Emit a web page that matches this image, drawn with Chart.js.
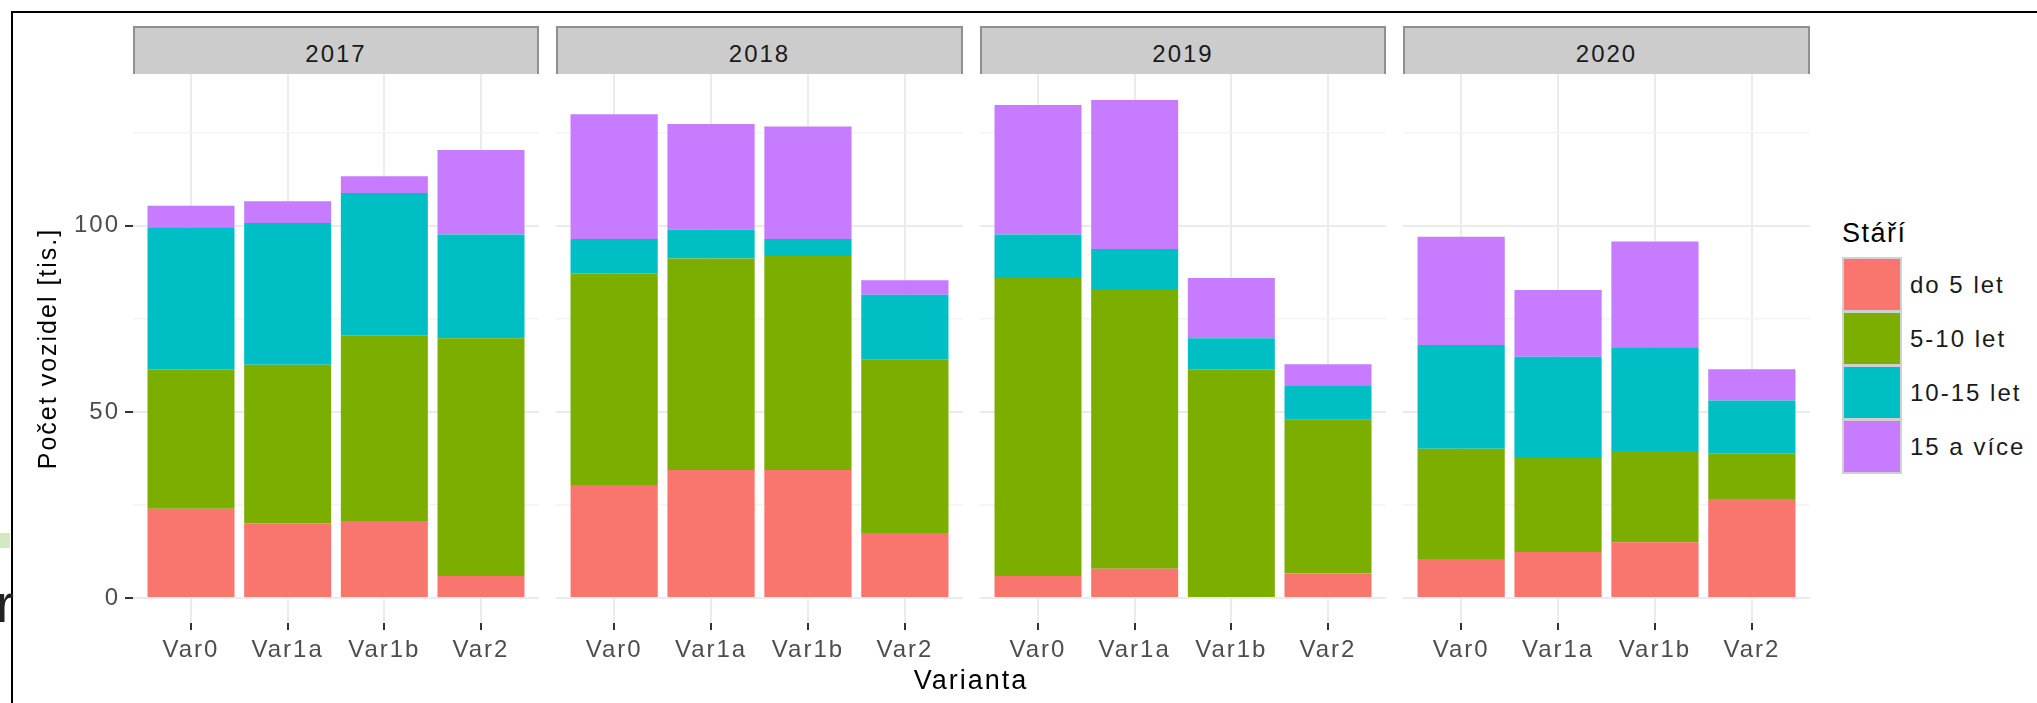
<!DOCTYPE html>
<html>
<head>
<meta charset="utf-8">
<script src="https://cdn.jsdelivr.net/npm/chart.js"></script>
<style>
  body { margin: 0; width: 2037px; height: 703px; overflow: hidden; background: #fff;
         font-family: "Liberation Sans", Arial, sans-serif; position: relative; }
  .frame { position: absolute; left: 11px; top: 11px; width: 2100px; height: 800px; border: 2px solid #000; }
  .panel { position: absolute; top: 74px; height: 629px; }
  .strip { position: absolute; top: 26px; height: 48px; box-sizing: border-box; background: #cccccc;
           border: 2px solid #8f8f8f; border-bottom: none; color: #1a1a1a; font-size: 24px;
           letter-spacing: 2px; text-align: center; line-height: 52px; }
  #xtitle { position: absolute; left: 771px; width: 400px; top: 662px; text-align: center;
            font-size: 27px; letter-spacing: 2px; color: #000; line-height: 36px; }
  #legend { position: absolute; left: 1842px; top: 215px; }
  #legend .title { font-size: 27px; letter-spacing: 1.5px; line-height: 36px; height: 40px; color: #000; }
  #legend .keys { position: absolute; left: 0; top: 42px; background: #d0d0d0; padding: 2px; }
  #legend .key { width: 56px; height: 51px; margin-bottom: 3px; }
  #legend .key:last-child { margin-bottom: 0; }
  #legend .label { position: absolute; left: 68px; font-size: 24px; letter-spacing: 2px; color: #1a1a1a;
                   line-height: 30px; white-space: nowrap; }
  .leftover { position: absolute; left: 0; top: 533px; width: 10px; height: 15px; background: #d4e8c4; }
  .leftchar { position: absolute; left: -4px; top: 571px; font-size: 54px; line-height: 64px; color: #222; }
</style>
</head>
<body>
<div class="frame"></div>
<div class="leftover"></div>
<div class="leftchar">r</div>
<div id="strips"></div>
<div id="panels"></div>
<div id="xtitle">Varianta</div>
<div id="legend"></div>

<script>
  const years = ['2017', '2018', '2019', '2020'];
  const variants = ['Var0', 'Var1a', 'Var1b', 'Var2'];
  const ageGroups = ['do 5 let', '5-10 let', '10-15 let', '15 a více'];
  const ageColors = ['#F8766D', '#7CAE00', '#00BFC4', '#C77CFF'];

  // thousands of vehicles, 4 variants per year (2017, 2018, 2019, 2020)
  const do5 =        [24.0, 20.1, 20.7,  5.9,  30.4, 34.4, 34.4, 17.5,   5.9,  7.9,  0.0,  6.6,  10.5, 12.4, 15.0, 26.6];
  const from5to10 =  [37.5, 42.6, 49.9, 63.9,  56.9, 56.8, 57.5, 46.5,  80.1, 74.9, 61.5, 41.3,  29.6, 25.2, 24.5, 12.3];
  const from10to15 = [38.1, 38.1, 38.2, 27.9,   9.2,  7.8,  4.6, 17.5,  11.7, 11.0,  8.3,  9.1,  27.9, 27.2, 27.9, 14.2];
  const over15 =     [ 5.8,  5.8,  4.5, 22.7,  33.5, 28.4, 30.2,  3.9,  34.8, 40.0, 16.2,  5.8,  29.1, 18.0, 28.4,  8.4];
  const yTicks = [0, 25, 50, 75, 100, 125];

  const series = [do5, from5to10, from10to15, over15];
  const font = 'Liberation Sans';

  // left edge / width of each facet canvas, and width reserved for the y axis
  const panelBoxes = [
    { left: 30, width: 509, axis: 103 },
    { left: 556, width: 407, axis: 0 },
    { left: 980, width: 406, axis: 0 },
    { left: 1403, width: 407, axis: 0 }
  ];

  const spacing = {
    id: 'spacing',
    beforeUpdate: c => { c.ctx.letterSpacing = '2px'; },
    beforeLayout: c => { c.ctx.letterSpacing = '2px'; },
    beforeDraw: c => { c.ctx.letterSpacing = '2px'; }
  };

  const charts = years.map((year, k) => {
    const box = panelBoxes[k];
    const panelLeft = box.left + box.axis;

    const strip = document.createElement('div');
    strip.className = 'strip';
    strip.style.left = panelLeft + 'px';
    strip.style.width = (box.width - box.axis) + 'px';
    strip.textContent = year;
    document.getElementById('strips').appendChild(strip);

    const holder = document.createElement('div');
    holder.className = 'panel';
    holder.style.left = box.left + 'px';
    holder.style.width = box.width + 'px';
    const canvas = document.createElement('canvas');
    canvas.width = box.width;
    canvas.height = 629;
    holder.appendChild(canvas);
    document.getElementById('panels').appendChild(holder);

    const major = v => v % 50 === 0;

    return new Chart(canvas, {
      type: 'bar',
      data: {
        datasets: series.map((vals, i) => ({
          label: ageGroups[i],
          data: variants.map((v, j) => ({ x: j + 1, y: vals[k * 4 + j] })),
          backgroundColor: ageColors[i],
          borderWidth: 0,
          categoryPercentage: 1,
          barPercentage: 0.9
        }))
      },
      options: {
        responsive: false,
        animation: false,
        layout: { padding: 0 },
        plugins: { legend: { display: false }, tooltip: { enabled: false } },
        scales: {
          x: {
            type: 'linear',
            stacked: true,
            min: 0.4,
            max: 4.6,
            offset: false,
            afterBuildTicks: s => { s.ticks = variants.map((v, j) => ({ value: j + 1 })); },
            afterFit: s => { s.height = 80; s.paddingLeft = 0; s.paddingRight = 0; },
            border: { display: false },
            grid: { offset: false, color: '#ebebeb', lineWidth: 2, tickColor: '#333', tickWidth: 2, tickLength: 7 },
            ticks: {
              callback: v => variants[v - 1],
              font: { family: font, size: 24 },
              color: '#4d4d4d',
              padding: 6,
              maxRotation: 0,
              autoSkip: false
            }
          },
          y: {
            stacked: true,
            min: -6.7,
            max: 140.8,
            afterBuildTicks: s => { s.ticks = yTicks.map(v => ({ value: v })); },
            afterFit: s => { s.width = box.axis; s.paddingTop = 0; s.paddingBottom = 0; },
            border: { display: false },
            grid: {
              color: c => major(c.tick.value) ? '#ebebeb' : '#f4f4f4',
              lineWidth: c => major(c.tick.value) ? 2 : 1.5,
              tickColor: c => major(c.tick.value) ? '#333' : 'rgba(0,0,0,0)',
              drawTicks: k === 0,
              tickLength: 8,
              tickWidth: 2
            },
            ticks: {
              display: k === 0,
              callback: v => major(v) ? v : '',
              font: { family: font, size: 24 },
              color: '#4d4d4d',
              padding: 5
            },
            title: {
              display: k === 0,
              text: 'Počet vozidel [tis.]',
              font: { family: font, size: 25 },
              color: '#000',
              padding: { top: 4, bottom: 4 }
            }
          }
        }
      },
      plugins: [spacing]
    });
  });

  // legend built from the chart's own legend items
  const legend = document.getElementById('legend');
  const items = Chart.defaults.plugins.legend.labels.generateLabels(charts[3]);
  legend.innerHTML = '<div class="title">Stáří</div>';
  const keys = document.createElement('div');
  keys.className = 'keys';
  items.forEach((item, i) => {
    const key = document.createElement('div');
    key.className = 'key';
    key.style.background = item.fillStyle;
    keys.appendChild(key);
    const label = document.createElement('div');
    label.className = 'label';
    label.style.top = (42 + 2 + i * 54 + 26 - 15) + 'px';
    label.textContent = item.text;
    legend.appendChild(label);
  });
  legend.appendChild(keys);
</script>
</body>
</html>
